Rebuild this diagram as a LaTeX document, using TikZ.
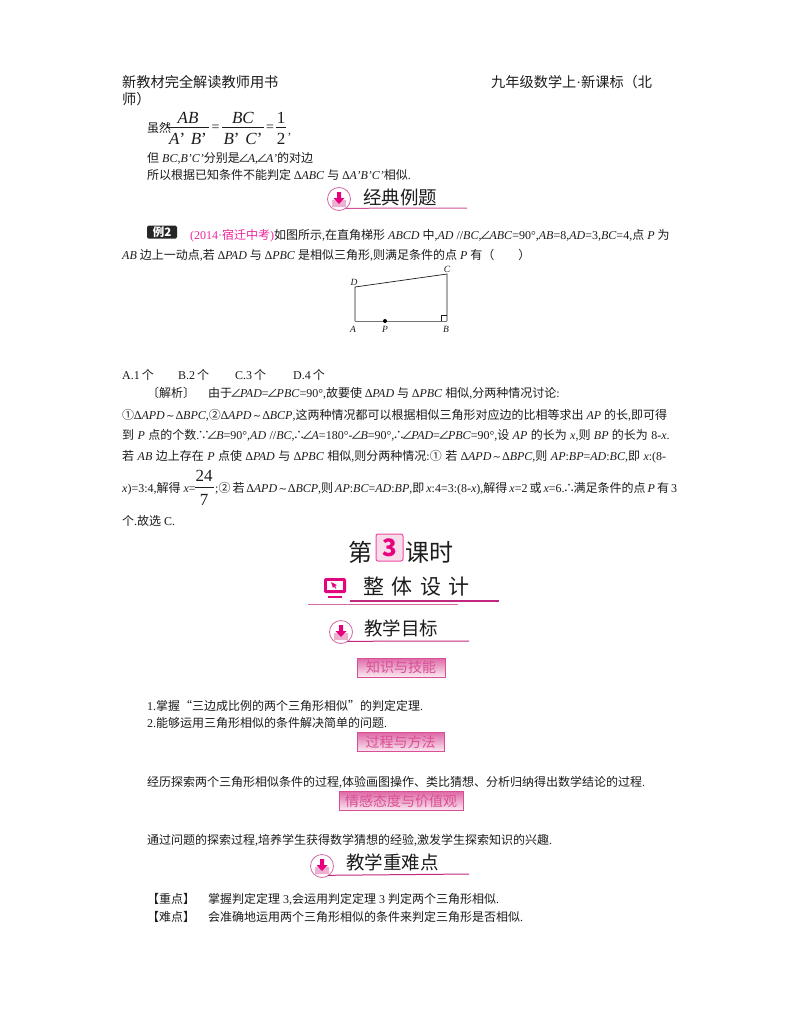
\documentclass[tikz,border=0pt]{standalone}
\usepackage{fontspec}
\setmainfont{Liberation Serif}
\newfontfamily\cjkf{Noto Sans CJK SC}
\newfontfamily\symf{DejaVu Sans}
\newcommand\z[1]{{\cjkf #1}}
\newcommand\mi[1]{\textit{#1}}
\newcommand\ag{\makebox[8pt][c]{\cjkf ∠}}
\newcommand\since{\makebox[9pt][c]{\cjkf ∵}}
\newcommand\hence{\makebox[9pt][c]{\cjkf ∴}}
\newcommand\sm{\makebox[11pt][c]{\symf\fontsize{10}{10}\selectfont ∼}}
\definecolor{ink}{HTML}{1C1C1C}
\definecolor{rosa}{HTML}{C2287F}
\definecolor{mag}{HTML}{E6007E}
\definecolor{ptext}{HTML}{D94F96}
\tikzset{
  x=1pt,y=-1pt,
  body/.style={anchor=base west,inner sep=0pt,text=ink,font=\fontsize{12}{12}\selectfont},
  head/.style={anchor=base west,inner sep=0pt,text=ink,font=\fontsize{14.2}{14}\selectfont},
  lab/.style={inner sep=0pt,text=ink,font=\fontsize{9.5}{9}\selectfont\itshape},
  frc/.style={inner sep=0pt,text=ink,font=\fontsize{17}{17}\selectfont},
  title/.style={anchor=base west,inner sep=0pt,text=ink,font=\fontsize{18.5}{18}\selectfont\cjkf},
  rule/.style={draw=rosa,line width=1pt},
  tag/.style={draw=ptext,line width=.8pt,top color=ptext!85,bottom color=ptext!12,inner sep=0pt,text=ptext,font=\fontsize{14}{14}\selectfont\cjkf,minimum height=19pt},
  ring/.style={circle,draw=rosa!70,line width=.8pt,fill=white,inner sep=0pt,minimum size=#1},
  tray/.style={fill=ptext!45,draw=none},
  arr/.style={fill=mag,draw=none},
}
\newcommand\dlicon[3]{%
  \node[ring=23pt] (#3) at (#1,#2) {};
  \fill[tray] (#1-7,#2+1) -- (#1-2,#2+1) -- (#1,#2+3) -- (#1+2,#2+1) -- (#1+7,#2+1) -- (#1+7,#2+8) -- (#1-7,#2+8) -- cycle;
  \fill[arr] (#1-2,#2-7) -- (#1+2,#2-7) -- (#1+2,#2-1) -- (#1+5.5,#2-1) -- (#1,#2+5) -- (#1-5.5,#2-1) -- (#1-2,#2-1) -- cycle;
}
\begin{document}
\begin{tikzpicture}
\useasboundingbox (0,0) rectangle (800,1028);
\fill[white] (0,0) rectangle (800,1028);
% header
\node[head] (h1) at (122,87) {\z{新教材完全解读教师用书}};
\node[head] (h2) at (491,87) {\z{九年级数学上}·\z{新课标（北}};
\node[head] (h3) at (122,104) {\z{师）}};
% fractions
\node[body] (f0) at (147,132) {\z{虽然}};
\node[frc] (f1n) at (188,118) {\mi{AB}};
\node[frc] (f1d) at (188,139) {\mi{A}’\,\,\mi{B}’};
\draw[ink,line width=.6pt] (167,127.5) -- (209,127.5);
\node[body,anchor=center,font=\fontsize{14}{14}\selectfont] (eq1) at (215.5,128) {=};
\node[frc] (f2n) at (243,118) {\mi{BC}};
\node[frc] (f2d) at (243,139) {\mi{B}’\,\,\mi{C}’};
\draw[ink,line width=.6pt] (222,127.5) -- (264,127.5);
\node[body,anchor=center,font=\fontsize{14}{14}\selectfont] (eq2) at (270,128) {=};
\node[frc] (f3n) at (281,118) {1};
\node[frc] (f3d) at (281,139) {2};
\draw[ink,line width=.6pt] (276,127.5) -- (286,127.5);
\node[body] (fc) at (288,134) {,};
\node[body] (t1) at (147,162) {\z{但} \mi{BC},\mi{B'C'}\z{分别是}\ag\mi{A},\ag\mi{A'}\z{的对边}};
\node[body] (t2) at (147,179) {\z{所以根据已知条件不能判定} ∆\mi{ABC} \z{与} ∆\mi{A'B'C'}\z{相似}.};
% heading 1
\dlicon{339}{199}{ic1}
\draw[rule,draw=rosa!80] (ic1.-60) ++(0,-1) -- (467,208);
\node[title] (k1) at (363,204) {经典例题};
% example
\node[fill=black!85,rounded corners=1.5pt,inner sep=0pt,minimum width=30pt,minimum height=13pt,text=white,font=\fontsize{11.5}{10}\selectfont\cjkf\bfseries] (li) at (162,232) {例2};
\node[body] (p1) at (190,239) {\textcolor{magenta!85!white}{(2014·\z{宿迁中考})}\z{如图所示},\z{在直角梯形} \mi{ABCD} \z{中},\mi{AD} //\mi{BC},\ag\mi{ABC}=90°,\mi{AB}=8,\mi{AD}=3,\mi{BC}=4,\z{点} \mi{P} \z{为}};
\node[body] (p2) at (122,259) {\mi{AB} \z{边上一动点},\z{若} ∆\mi{PAD} \z{与} ∆\mi{PBC} \z{是相似三角形},\z{则满足条件的点} \mi{P} \z{有（\hspace{2em}）}};
% figure
\coordinate (A) at (355,321);
\coordinate (B) at (447,321);
\coordinate (C) at (447,274);
\coordinate (D) at (355,287);
\draw[ink,line width=.7pt] (A) -- (D) -- (C) -- (B);
\draw[black!55,line width=1pt] (A) -- (B);
\draw[ink,line width=.5pt] (441,321) |- (447,315);
\node[circle,fill=black,inner sep=0pt,minimum size=4pt] (P) at (385,321) {};
\node[lab] (la) at (353,329) {A};
\node[lab] (lb) at (446,329) {B};
\node[lab] (lc) at (447,269) {C};
\node[lab] (ld) at (354,282) {D};
\node[lab] (lp) at (385,329) {P};
% choices
\node[body] (a1) at (122,379) {A.1\,\z{个}};
\node[body] (a2) at (178,379) {B.2\,\z{个}};
\node[body] (a3) at (235,379) {C.3\,\z{个}};
\node[body] (a4) at (293,379) {D.4\,\z{个}};
% analysis
\node[body] (b0) at (147,397) {\z{〔解析〕}};
\node[body] (b1) at (208,397) {\z{由于}\ag\mi{PAD}=\ag\mi{PBC}=90°,\z{故要使} ∆\mi{PAD} \z{与} ∆\mi{PBC} \z{相似},\z{分两种情况讨论}:};
\node[body] (b2) at (122,419) {\z{①}∆\mi{APD}\sm∆\mi{BPC},\z{②}∆\mi{APD}\sm∆\mi{BCP},\z{这两种情况都可以根据相似三角形对应边的比相等求出} \mi{AP} \z{的长},\z{即可得}};
\node[body] (b3) at (122,439) {\spaceskip=3.4pt \z{到} \mi{P} \z{点的个数}.\since\ag\mi{B}=90°,\mi{AD} //\mi{BC},\hence\ag\mi{A}=180°-\ag\mi{B}=90°,\hence\ag\mi{PAD}=\ag\mi{PBC}=90°,\z{设} \mi{AP} \z{的长为} \mi{x},\z{则} \mi{BP} \z{的长为} 8-\mi{x}.};
\node[body] (b4) at (122,460) {\spaceskip=3.5pt \z{若} \mi{AB} \z{边上存在} \mi{P} \z{点使} ∆\mi{PAD} \z{与} ∆\mi{PBC} \z{相似},\z{则分两种情况}:\z{①} \z{若} ∆\mi{APD}\sm∆\mi{BPC},\z{则} \mi{AP}:\mi{BP}=\mi{AD}:\mi{BC},\z{即} \mi{x}:(8-};
\node[body] (b5) at (122,492) {\mi{x})=3:4,\z{解得} \mi{x}=};
\node[frc] (g1) at (204,476) {24};
\node[frc] (g2) at (204,500) {7};
\draw[ink,line width=.6pt] (195,487.5) -- (214,487.5);
\node[body] (b6) at (215,492) {\spaceskip=2pt ;\z{②} \z{若} ∆\mi{APD}\sm∆\mi{BCP},\z{则} \mi{AP}:\mi{BC}=\mi{AD}:\mi{BP},\z{即} \mi{x}:4=3:(8-\mi{x}),\z{解得} \mi{x}=2 \z{或} \mi{x}=6.\hence\z{满足条件的点} \mi{P} \z{有} 3};
\node[body] (b7) at (122,525) {\z{个}.\z{故选} C.};
% lesson title
\node[anchor=base west,inner sep=0pt,text=ink,font=\fontsize{24}{24}\selectfont\cjkf] (c1) at (348,561) {第};
\node[draw=mag!70,fill=ptext!20,line width=1pt,rounded corners=2pt,minimum width=27pt,minimum height=27pt,inner sep=0pt,text=mag,font=\fontsize{24}{24}\selectfont\bfseries\cjkf] (c2) at (389.5,547.5) {3};
\node[anchor=base west,inner sep=0pt,text=ink,font=\fontsize{24}{24}\selectfont\cjkf] (c3) at (405,561) {课时};
% monitor
\fill[mag!85!rosa,rounded corners=1.5pt] (324,578) rectangle (346,593);
\fill[white] (327,580.5) rectangle (343,590);
\fill[mag!85!rosa] (331,582) -- (337,585) -- (335,586) -- (336.5,588) -- (335.5,588.5) -- (334,586.5) -- (333,588) -- cycle;
\fill[mag!85!rosa] (328,596) rectangle (342,598);
\node[title,font=\fontsize{21}{21}\selectfont\cjkf] (k2) at (363,594) {整\hspace{7.5pt}体\hspace{7.5pt}设\hspace{7.5pt}计};
\draw[rule,line width=1.2pt] (350,601) -- (499,601);
\draw[rosa!70,line width=.6pt] (308,604) -- (458,604);
% heading 2
\dlicon{341}{632}{ic2}
\draw[rule] (ic2.-60) ++(0,-1) -- (469,641);
\node[title] (k3) at (364,635) {教学目标};
\node[tag,minimum width=88pt] (t3) at (401,667.5) {知识与技能};
\node[body] (e1) at (147,710) {1.\z{掌握“三边成比例的两个三角形相似”的判定定理}.};
\node[body] (e2) at (147,727) {2.\z{能够运用三角形相似的条件解决简单的问题}.};
\node[tag,minimum width=87pt] (t4) at (400.5,742) {过程与方法};
\node[body] (e3) at (147,786) {\z{经历探索两个三角形相似条件的过程},\z{体验画图操作、类比猜想、分析归纳得出数学结论的过程}.};
\node[tag,minimum width=124pt] (t5) at (401,801) {情感态度与价值观};
\node[body] (e4) at (147,844) {\z{通过问题的探索过程},\z{培养学生获得数学猜想的经验},\z{激发学生探索知识的兴趣}.};
% heading 3
\dlicon{322}{866}{ic3}
\draw[rule] (ic3.-60) ++(0,-1) -- (469,874);
\node[title] (k4) at (346,869) {教学重难点};
\node[body] (m1) at (147,903) {\z{【重点】}};
\node[body] (m2) at (208,903) {\z{掌握判定定理} 3,\z{会运用判定定理} 3 \z{判定两个三角形相似}.};
\node[body] (m3) at (147,921) {\z{【难点】}};
\node[body] (m4) at (208,921) {\z{会准确地运用两个三角形相似的条件来判定三角形是否相似}.};
\end{tikzpicture}
\end{document}
